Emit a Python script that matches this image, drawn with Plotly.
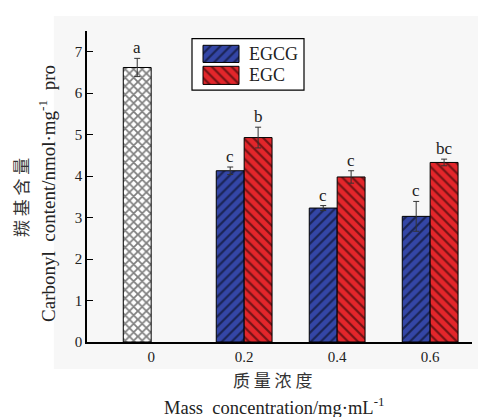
import plotly.graph_objects as go

categories = ["0", "0.2", "0.4", "0.6"]
control_cat = ["0"]
control_val = [6.62]
control_err = [0.22]
control_letter = ["a"]

treat_cats = ["0.2", "0.4", "0.6"]
egcg_val = [4.13, 3.23, 3.03]
egcg_err = [0.09, 0.06, 0.36]
egcg_letter = ["c", "c", "c"]
egc_val = [4.93, 3.98, 4.33]
egc_err = [0.25, 0.15, 0.08]
egc_letter = ["b", "c", "bc"]

series_names = ["EGCG", "EGC"]
y_ticks = [0, 1, 2, 3, 4, 5, 6, 7]

BW = 0.30
SERIF = "Liberation Serif, Noto Sans CJK SC"
CJK = "Noto Sans CJK SC"
BLUE = "#3446a6"
RED = "#e3262b"
TXT = "#222222"

def pat(shape, bg, size=7, sol=0.3):
    return dict(shape=shape, fgcolor="black", bgcolor=bg, size=size,
                solidity=sol, fillmode="overlay")

fig = go.Figure()

def bar(name, x, y, err, off, bg, p):
    return go.Bar(
        name=name, x=x, y=y, width=BW, offset=off,
        marker=dict(color=bg, line=dict(color="black", width=1), pattern=p),
        error_y=dict(type="data", array=err, visible=True, color="#333333",
                     thickness=1, width=3),
        showlegend=False, hoverinfo="skip",
    )

fig.add_trace(bar("Control", control_cat, control_val, control_err, -BW, "white",
                  pat("x", "white", 6, 0.5)))
fig.add_trace(bar(series_names[0], treat_cats, egcg_val, egcg_err, -BW, BLUE, pat("/", BLUE)))
fig.add_trace(bar(series_names[1], treat_cats, egc_val, egc_err, 0, RED, pat("\\", RED)))

# custom legend drawn on an overlay axis in pixel units (x: 87..472, y: 16..342 top-down)
leg_x0, leg_x1, leg_y0, leg_y1 = 192, 304, 24, 78
sw_x0, sw_x1 = 203, 239
sw_rows = [(31, 49), (53, 72)]
sw_colors = [BLUE, RED]
sw_shapes = ["/", "\\"]
for (r0, r1), col, shp, nm in zip(sw_rows, sw_colors, sw_shapes, series_names):
    fig.add_trace(go.Scatter(
        x=[sw_x0, sw_x1, sw_x1, sw_x0, sw_x0], y=[r0, r0, r1, r1, r0],
        xaxis="x2", yaxis="y2", mode="lines", fill="toself", fillcolor=col,
        fillpattern=pat(shp, col, 7, 0.3), line=dict(color="black", width=1),
        showlegend=False, hoverinfo="skip"))

annots = []
def letters(cats, vals, errs, labs, center_off):
    for c, v, e, l in zip(cats, vals, errs, labs):
        annots.append(dict(x=categories.index(c) + center_off, y=v + e, xref="x", yref="y",
                           text=l, showarrow=False, xanchor="center", yanchor="bottom",
                           yshift=-1, font=dict(family=SERIF, size=17, color=TXT)))

letters(control_cat, control_val, control_err, control_letter, -BW / 2)
letters(treat_cats, egcg_val, egcg_err, egcg_letter, -BW / 2)
letters(treat_cats, egc_val, egc_err, egc_letter, BW / 2)

for (r0, r1), nm in zip(sw_rows, series_names):
    annots.append(dict(x=247, y=(r0 + r1) / 2, xref="x2", yref="y2", text=nm,
                       xanchor="left", yanchor="middle", showarrow=False,
                       font=dict(family=SERIF, size=18, color=TXT)))

def outer(x, y, text, fam, size, angle=0, col=TXT):
    annots.append(dict(x=x, y=y, xref="paper", yref="paper", text=text, textangle=angle,
                       xanchor="center", yanchor="middle", showarrow=False,
                       font=dict(family=fam, size=size, color=col)))

outer(-0.171, 0.442, "羰 基 含 量", CJK, 17, -90, "#333333")
outer(-0.104, 0.457, "Carbonyl  content/nmol·mg<sup>-1</sup>  pro", SERIF, 19, -90)
outer(0.483, -0.115, "质 量 浓 度", CJK, 17, 0, "#333333")
outer(0.485, -0.196, "Mass  concentration/mg·mL<sup>-1</sup>", SERIF, 18.5)

fig.update_layout(
    width=478, height=417,
    margin=dict(l=87, r=6, t=16, b=75, autoexpand=False),
    paper_bgcolor="white",
    plot_bgcolor="#f7f7f7",
    barmode="overlay",
    showlegend=False,
    font=dict(family=SERIF, size=15, color=TXT),
    annotations=annots,
    shapes=[
        dict(type="rect", xref="paper", yref="paper", x0=-0.086, x1=1.02,
             y0=-0.083, y1=1.0, fillcolor="#f7f7f7", line=dict(width=0), layer="below"),
        dict(type="rect", xref="x2", yref="y2", x0=leg_x0, x1=leg_x1, y0=leg_y0, y1=leg_y1,
             fillcolor="white", line=dict(color="black", width=1.2), layer="below"),
    ],
    xaxis=dict(type="category", categoryorder="array", categoryarray=categories,
               range=[-0.69, 3.45], showline=True, linecolor="black", linewidth=1.5,
               ticks="", showgrid=False, zeroline=False, domain=[0, 1],
               tickfont=dict(family=SERIF, size=15, color=TXT)),
    yaxis=dict(range=[0, 7.5], tickvals=y_ticks, showline=True, linecolor="black",
               linewidth=1.5, ticks="inside", ticklen=6, tickwidth=1.2, tickcolor="black",
               showgrid=False, zeroline=False, domain=[0, 311 / 326],
               tickfont=dict(family=SERIF, size=15, color=TXT)),
    xaxis2=dict(overlaying="x", range=[87, 472], visible=False, anchor="y2"),
    yaxis2=dict(overlaying="y", range=[342, 16], visible=False, anchor="x2", domain=[0, 1]),
)

fig.write_html("out.html", config={"displayModeBar": False},
               post_script="document.body.style.margin='0';document.body.style.padding='0';")
